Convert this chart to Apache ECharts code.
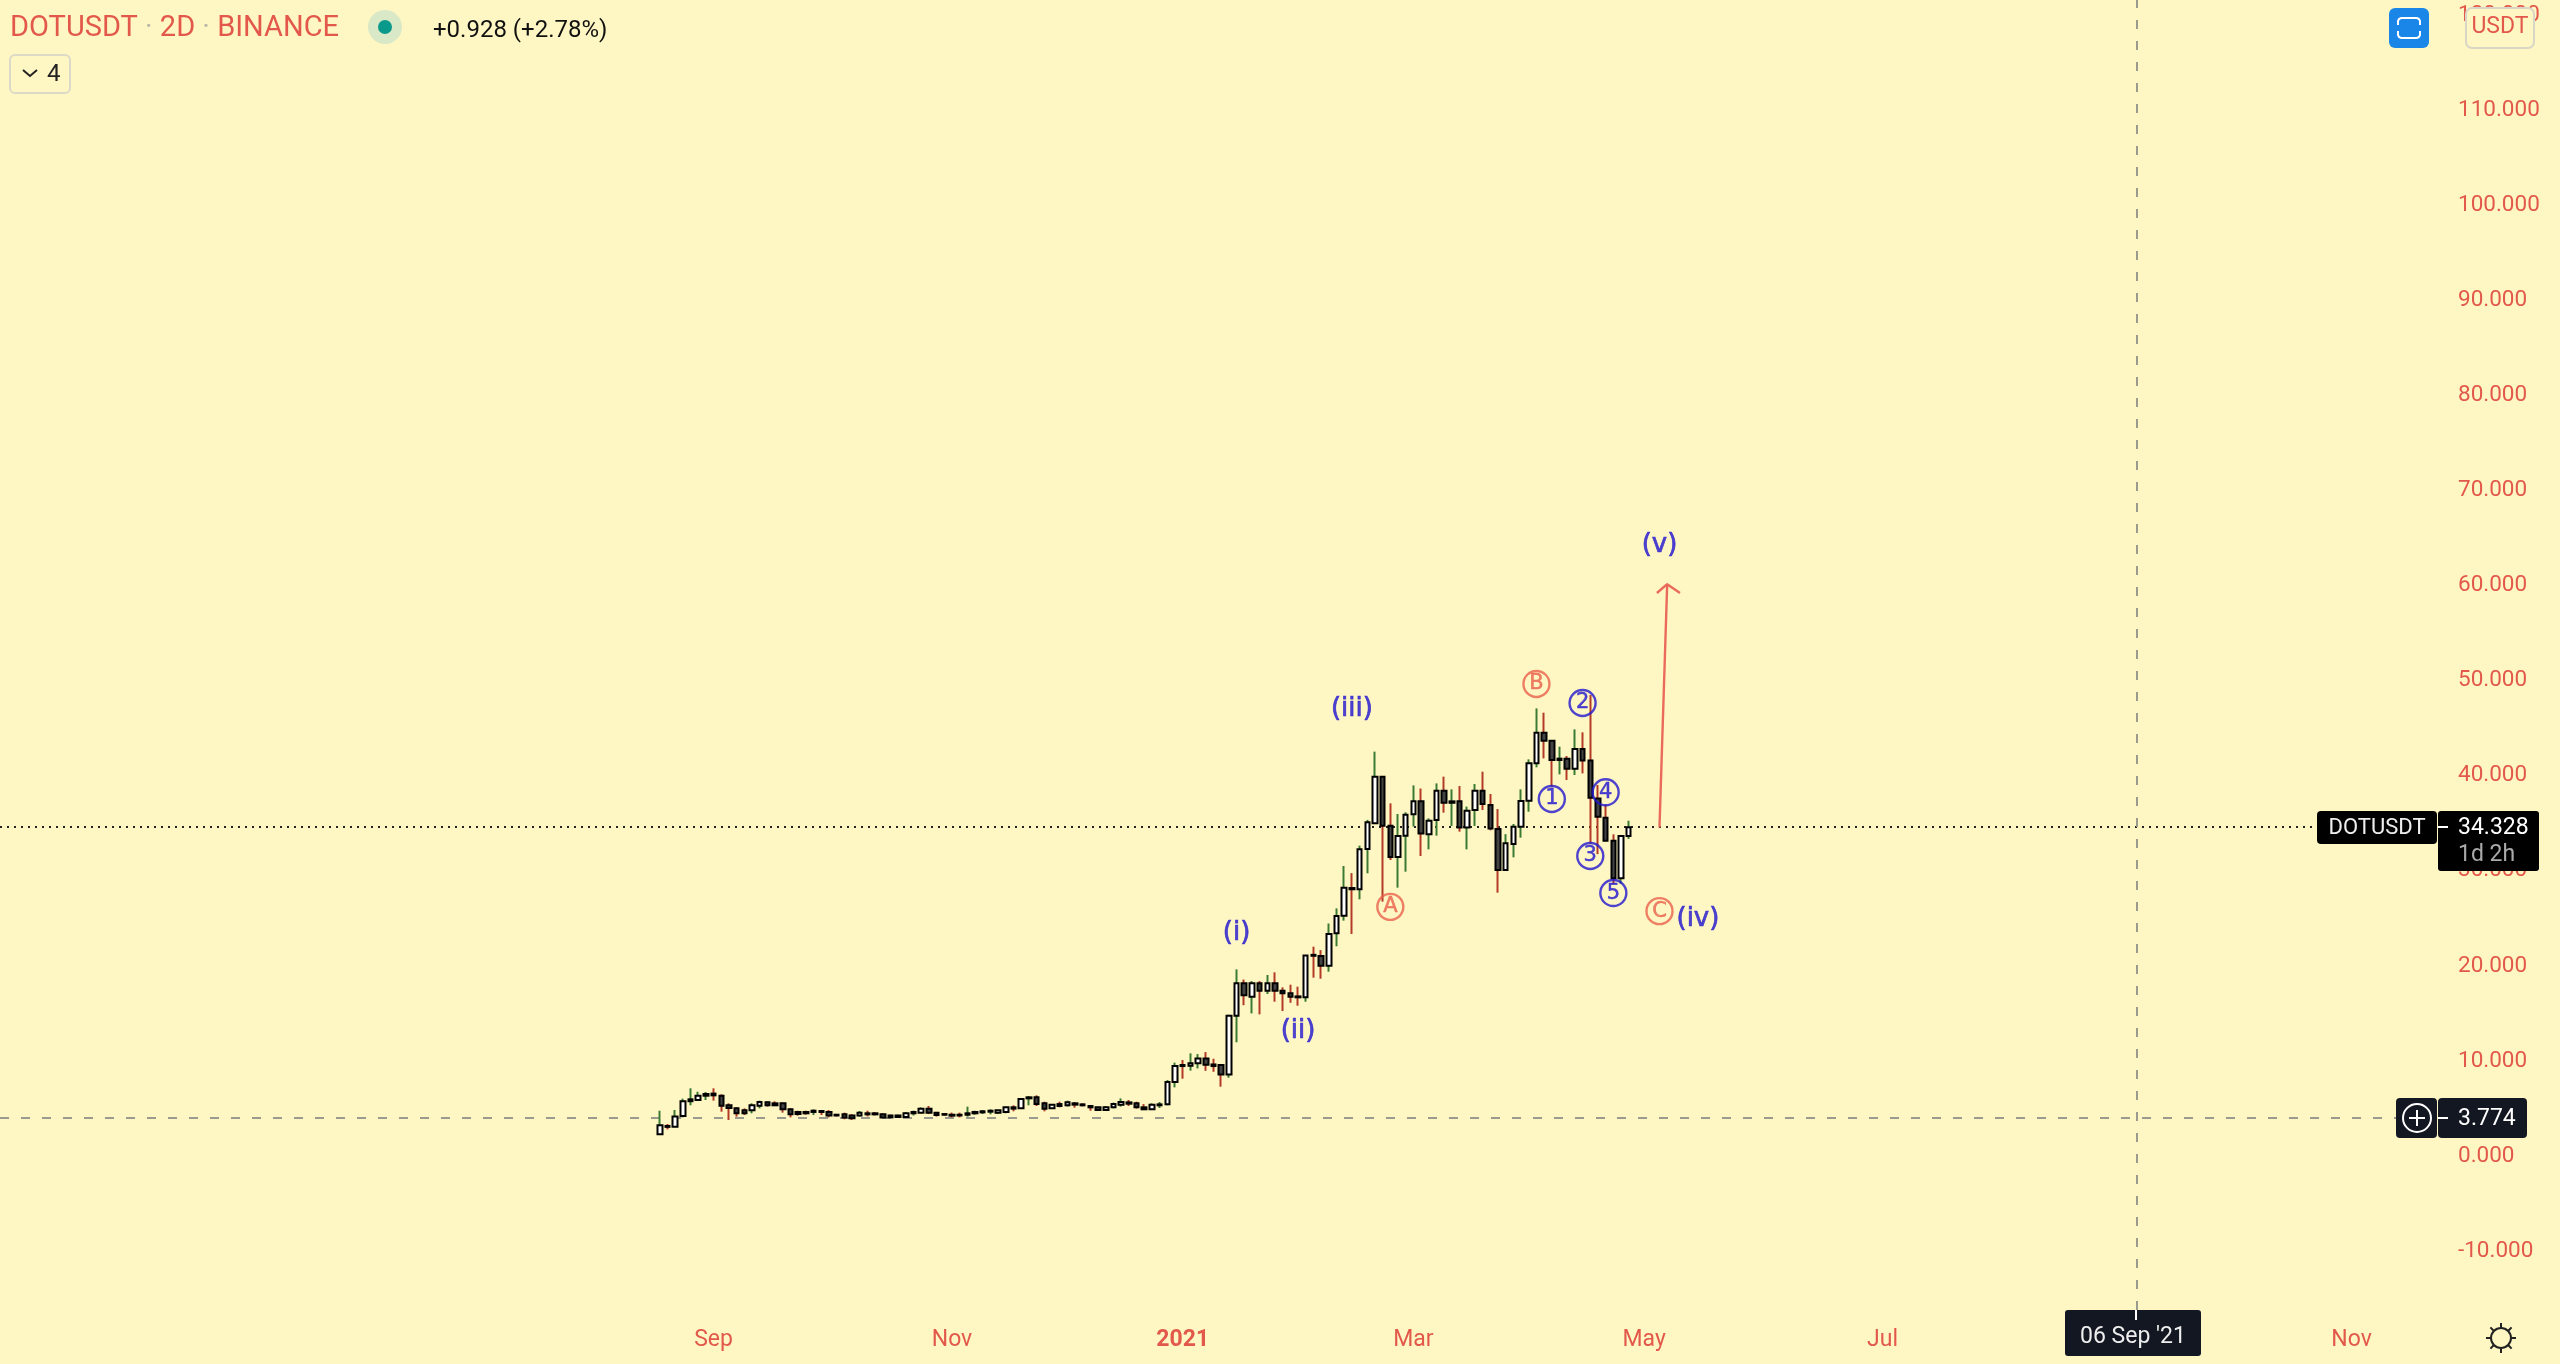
<!DOCTYPE html>
<html>
<head>
    <meta charset="utf-8">
    <title>DOTUSDT 2D</title>
    <script src="https://cdn.jsdelivr.net/npm/echarts@6/dist/echarts.min.js"></script>
    <style>
        html, body { margin: 0; padding: 0; background: #fff7c3; }
        #chart1 { width: 2560px; height: 1364px; }
    </style>
</head>
<body>
<div id="chart1"></div>
<script>
    // 2D bars from the listing date
    var firstBar = [2020, 7, 18];

    var opens = [2.02,2.9,2.82,3.95,5.5,5.63,6.08,6.3,6.08,5.07,4.75,4.54,4.54,5.03,5.38,5.28,5.28,4.65,4.37,4.37,
        4.37,4.47,4.37,4.08,4.12,4.0,4.0,4.23,4.23,4.12,4.0,3.84,3.84,4.23,4.3,4.72,4.3,4.15,4.08,4.08,
        4.08,4.23,4.33,4.4,4.3,4.37,4.86,4.75,5.8,5.91,5.28,4.75,5.2,5.07,5.28,5.17,5.0,4.86,4.58,4.86,
        5.14,5.38,5.28,4.86,4.65,5.07,5.17,7.52,9.31,9.24,9.5,10.0,9.37,9.3,8.32,14.5,17.9,16.5,17.9,17.13,
        17.9,17.13,16.85,16.53,16.43,20.9,20.77,19.76,23.16,25.02,27.93,27.8,32.04,34.74,39.65,34.49,31.2,33.44,35.68,37.05,
        33.6,35.09,38.17,36.9,37.05,34.3,36.14,38.17,36.66,34.14,29.83,32.56,34.39,37.12,41.05,44.27,43.43,41.4,41.54,40.49,
        42.55,41.36,37.36,35.33,32.91,28.95,33.4];
    var closes = [2.96,2.8,3.88,5.49,5.7,6.08,6.26,6.12,5.03,4.79,4.23,4.23,5.07,5.42,5.07,5.07,4.65,4.12,4.15,4.23,
        4.5,4.37,4.0,4.0,3.8,3.7,4.3,4.12,4.12,3.8,3.8,4.0,4.23,4.37,4.72,4.3,4.05,4.08,3.98,4.0,
        4.23,4.37,4.44,4.5,4.54,4.86,4.72,5.73,5.91,5.2,4.72,5.14,5.0,5.38,5.14,5.07,4.86,4.58,4.86,5.2,
        5.42,5.24,4.86,4.65,5.14,5.17,7.52,9.2,9.2,9.49,10.0,9.35,9.2,8.32,14.5,17.9,16.64,17.9,17.13,17.9,
        17.13,16.85,16.5,16.43,20.84,20.8,19.76,23.09,25.0,27.97,27.8,32.0,34.84,39.65,34.49,31.2,33.4,35.65,37.05,33.68,
        35.0,38.17,36.9,37.05,34.3,36.07,38.17,36.77,34.2,29.83,32.63,34.39,37.09,41.05,44.27,43.43,41.4,41.54,40.49,42.55,
        41.36,37.43,35.44,32.91,28.95,33.4,34.328];
    var lows = [1.95,2.54,2.8,3.8,5.07,5.55,5.63,5.56,4.4,3.52,3.88,4.05,4.23,4.75,4.93,5.0,4.3,3.8,3.98,4.08,
        4.05,4.05,3.8,3.9,3.6,3.52,3.88,3.9,4.0,3.74,3.77,3.77,3.77,4.0,4.23,4.15,3.88,3.98,3.8,3.8,
        3.88,4.08,4.15,4.12,4.15,4.23,4.44,4.72,5.07,5.0,4.44,4.68,4.86,4.93,4.82,4.96,4.5,4.54,4.5,4.75,
        4.93,5.0,4.72,4.58,4.58,4.79,5.07,6.96,7.87,8.72,8.95,8.7,8.6,7.03,7.97,11.7,15.6,14.74,14.64,16.78,
        15.97,14.99,15.86,15.55,15.97,18.5,18.39,19.13,21.8,24.5,23.1,26.74,29.48,34.7,26.5,30.88,27.97,29.65,34.4,31.3,
        32.0,33.44,35.86,34.46,33.86,32.0,34.46,36.14,34.0,27.44,29.76,31.16,33.23,35.96,40.63,41.57,38.6,39.89,39.3,39.82,
        39.99,32.63,31.5,32.91,28.4,28.4,33.1];
    var highs = [4.5,3.1,4.58,5.77,6.86,6.5,6.47,6.86,6.23,5.28,4.86,4.75,5.28,5.56,5.49,5.49,5.35,4.75,4.5,4.5,
        4.65,4.58,4.58,4.15,4.3,4.15,4.47,4.5,4.37,4.23,4.08,4.08,4.37,4.5,4.86,5.0,4.37,4.23,4.3,4.3,
        4.93,4.5,4.58,4.65,4.58,4.93,5.07,5.8,6.05,6.12,5.45,5.2,5.45,5.56,5.42,5.28,5.1,4.93,5.0,5.35,
        5.8,5.63,5.45,5.2,5.28,5.42,7.73,9.56,9.84,10.54,10.46,10.67,9.97,9.3,14.6,19.37,18.3,18.14,18.14,18.78,
        19.06,17.48,17.76,17.55,20.88,21.76,21.4,24.2,25.79,30.25,29.5,32.39,35.1,42.28,39.65,36.84,35.72,35.9,38.73,38.4,
        35.26,38.94,39.65,38.31,38.66,36.5,38.87,40.17,37.82,36.24,33.6,34.67,38.31,41.47,46.83,46.38,43.43,42.8,41.82,44.62,
        44.31,48.24,38.77,36.66,33.58,33.5,35.01];

    // axes, month labels sit on the first bar of the month
    var yTicks = [-10,0,10,20,30,40,50,60,70,80,90,100,110,120];
    var xTickDates = ['2020-09-01','2020-11-02','2021-01-01','2021-03-02','2021-05-01','2021-07-02','2021-11-01'];
    var xTickLabels = ['Sep','Nov','2021','Mar','May','Jul','Nov'];

    // last price and crosshair
    var lastPrice = 34.328;
    var crossPrice = 3.774;
    var crossDate = '2021-09-06';

    // elliott wave labels
    var waveNames = ['(i)','(ii)','(iii)','(iv)','(v)'];
    var waveDates = ['2021-01-15','2021-01-31','2021-02-14','2021-05-15','2021-05-05'];
    var wavePrices = [23.2,12.85,46.75,24.6,63.95];

    var redNames = ['A','B','C'];
    var redDates = ['2021-02-24','2021-04-03','2021-05-05'];
    var redPrices = [25.95,49.4,25.5];

    var blueNames = ['1','2','3','4','5'];
    var blueDates = ['2021-04-07','2021-04-15','2021-04-17','2021-04-21','2021-04-23'];
    var bluePrices = [37.3,47.4,31.3,38.0,27.4];

    // projection arrow, the head is drawn as part of the same path
    var arrowDates = ['2021-05-05','2021-05-07','2021-05-04 08:00','2021-05-07','2021-05-10 08:00'];
    var arrowPrices = [34.3,59.9,58.97,59.9,58.97];

    var RED = '#e2594b', BLUE = '#2015d0', DARK = '#131722', FONT = 'Roboto';

    function ts(d) {
        return +echarts.time.parse(d);
    }

    var wicks = [], bodies = [];
    for (var i = 0; i < opens.length; i++) {
        var t = +new Date(firstBar[0], firstBar[1], firstBar[2] + 2 * i);
        wicks.push([t, opens[i], closes[i], lows[i], highs[i]]);
        bodies.push([t, opens[i], closes[i], Math.min(opens[i], closes[i]), Math.max(opens[i], closes[i])]);
    }

    function zipPoints(names, dates, prices) {
        return names.map(function (n, k) {
            return { name: n, value: [ts(dates[k]), prices[k]] };
        });
    }

    function ringSeries(names, dates, prices, color) {
        return {
            type: 'scatter', z: 5, silent: true,
            symbol: 'circle', symbolSize: 26,
            itemStyle: { color: 'rgba(0,0,0,0)', borderColor: color, borderWidth: 2.4 },
            label: {
                show: true, position: 'inside', formatter: '{b}', color: color,
                fontFamily: 'DejaVu Sans', fontSize: 21, textBorderColor: color, textBorderWidth: 0.5
            },
            data: zipPoints(names, dates, prices)
        };
    }

    var xTickValues = xTickDates.map(ts);

    var myChart = echarts.init(document.getElementById('chart1'));

    var option = {
        animation: false,
        backgroundColor: '#fff7c3',
        grid: { left: 0, right: 123, top: 0, bottom: 54 },
        xAxis: {
            type: 'value',
            scale: true,
            min: ts('2020-02-28 10:00'),
            max: ts('2021-11-23 05:00'),
            axisLine: { show: false },
            axisTick: { show: false },
            splitLine: { show: false },
            axisLabel: {
                customValues: xTickValues,
                margin: 19,
                color: RED,
                fontFamily: FONT,
                fontSize: 23,
                formatter: function (v) {
                    var s = xTickLabels[xTickValues.indexOf(v)];
                    return s === '2021' ? '{b|2021}' : s;
                },
                rich: { b: { fontWeight: 'bold', color: RED, fontFamily: FONT, fontSize: 23 } }
            }
        },
        yAxis: {
            type: 'value',
            position: 'right',
            min: -16.465,
            max: 121.36,
            axisLine: { show: false },
            axisTick: { show: false },
            splitLine: { show: false },
            axisLabel: {
                customValues: yTicks,
                margin: 21,
                color: RED,
                formatter: function (v) { return '{p|' + v.toFixed(3) + '}'; },
                rich: { p: { color: RED, fontFamily: FONT, fontSize: 22.5, padding: [5, 0, 0, 0] } }
            }
        },
        series: [
            {
                // wicks only
                type: 'candlestick', z: 2, silent: true, barWidth: 1,
                itemStyle: { color: '#3b7a32', color0: '#b23a26', borderColor: '#3b7a32', borderColor0: '#b23a26', borderWidth: 2 },
                data: wicks,
                markLine: {
                    silent: true, symbol: 'none', z: 1,
                    label: { show: false },
                    data: [
                        { yAxis: lastPrice, lineStyle: { color: '#222', type: [2, 5], width: 2 } },
                        { yAxis: crossPrice, lineStyle: { color: '#9a9a8e', type: [9, 12], width: 2 } },
                        { xAxis: ts(crossDate), lineStyle: { color: '#9a9a8e', type: [9, 12], width: 2 } }
                    ]
                }
            },
            {
                // bodies on top of the wicks
                type: 'candlestick', z: 3, silent: true, barWidth: 5,
                itemStyle: { color: '#ffffff', color0: '#444444', borderColor: '#000', borderColor0: '#000', borderWidth: 2 },
                data: bodies
            },
            {
                type: 'line', z: 4, silent: true, showSymbol: false, symbol: 'none',
                lineStyle: { color: '#ea6a5c', width: 2.4 },
                data: arrowDates.map(function (d, k) { return [ts(d), arrowPrices[k]]; })
            },
            ringSeries(redNames, redDates, redPrices, '#e8604c'),
            ringSeries(blueNames, blueDates, bluePrices, BLUE),
            {
                type: 'scatter', z: 5, silent: true, symbolSize: 1,
                itemStyle: { color: 'rgba(0,0,0,0)' },
                label: {
                    show: true, position: 'inside', formatter: '{b}', color: BLUE,
                    fontFamily: 'DejaVu Sans', fontSize: 26, textBorderColor: BLUE, textBorderWidth: 0.7
                },
                data: zipPoints(waveNames, waveDates, wavePrices)
            }
        ]
    };
    myChart.setOption(option);

    // price and time tags sit where the axes put them
    var yLast = Math.round(myChart.convertToPixel({ yAxisIndex: 0 }, lastPrice));
    var yCross = Math.round(myChart.convertToPixel({ yAxisIndex: 0 }, crossPrice));
    var xCross = Math.round(myChart.convertToPixel({ xAxisIndex: 0 }, ts(crossDate)));

    function label(x, y, s, fill, size, align) {
        return { type: 'text', z: 102, style: { x: x, y: y, text: s, fill: fill, font: size + 'px ' + FONT, textAlign: align || 'left', textVerticalAlign: 'middle' } };
    }
    function box(x, y, w, h, fill, r) {
        return { type: 'rect', z: 101, shape: { x: x, y: y, width: w, height: h, r: r || 0 }, style: { fill: fill } };
    }
    function seg(x1, y1, x2, y2, color, w) {
        return { type: 'line', z: 102, shape: { x1: x1, y1: y1, x2: x2, y2: y2 }, style: { stroke: color, lineWidth: w || 2 } };
    }
    function bracket(points) {
        return { type: 'polyline', z: 102, shape: { points: points }, style: { fill: 'none', stroke: '#fff', lineWidth: 2 } };
    }

    var chrome = [
        // legend line
        { type: 'text', z: 102, style: {
            x: 10, y: 29, textVerticalAlign: 'middle',
            text: '{r|DOTUSDT}{g| · }{r|2D}{g| · }{r|BINANCE}',
            rich: {
                r: { fill: RED, font: '29px ' + FONT },
                g: { fill: '#b9b9a8', font: '29px ' + FONT }
            }
        } },
        { type: 'circle', z: 101, shape: { cx: 385, cy: 27, r: 17 }, style: { fill: '#d9e8c6' } },
        { type: 'circle', z: 102, shape: { cx: 385, cy: 27, r: 7 }, style: { fill: '#0a9a8c' } },
        label(433, 31, '+0.928 (+2.78%)', '#111', 24),
        { type: 'rect', z: 101, shape: { x: 10, y: 55, width: 60, height: 38, r: 5 }, style: { fill: 'rgba(0,0,0,0)', stroke: '#dcd9c6', lineWidth: 2 } },
        { type: 'polyline', z: 102, shape: { points: [[23, 70], [30, 76], [37, 70]] }, style: { fill: 'none', stroke: '#222', lineWidth: 2 } },
        label(47, 75, '4', '#222', 24),

        // top right buttons
        box(2389, 8, 40, 40, '#1a87e8', 6),
        bracket([[2398, 25], [2398, 21], [2399, 19], [2401, 18], [2417, 18], [2419, 19], [2420, 21], [2420, 25]]),
        bracket([[2398, 31], [2398, 35], [2399, 37], [2401, 38], [2417, 38], [2419, 37], [2420, 35], [2420, 31]]),
        { type: 'rect', z: 101, shape: { x: 2466, y: 8, width: 68, height: 40, r: 6 }, style: { fill: '#fff7c3', stroke: '#d9d6c8', lineWidth: 2 } },
        label(2500, 27, 'USDT', RED, 23, 'center'),

        // last price tag
        box(2317, yLast - 16, 120, 33, '#000', 4),
        box(2438, yLast - 16, 101, 60, '#000', 3),
        label(2377, yLast + 1, 'DOTUSDT', '#eee', 22, 'center'),
        seg(2438, yLast, 2448, yLast, '#fff'),
        label(2458, yLast + 1, lastPrice.toFixed(3), '#fff', 23),
        label(2458, yLast + 28, '1d 2h', '#aaa', 23),

        // crosshair price tag
        box(2396, yCross - 20, 41, 40, DARK, 4),
        box(2438, yCross - 20, 89, 40, DARK, 4),
        { type: 'circle', z: 102, shape: { cx: 2417, cy: yCross, r: 14 }, style: { fill: 'none', stroke: '#fff', lineWidth: 2 } },
        seg(2417, yCross - 8, 2417, yCross + 8, '#fff'),
        seg(2409, yCross, 2425, yCross, '#fff'),
        seg(2438, yCross, 2448, yCross, '#fff'),
        label(2458, yCross + 1, crossPrice.toFixed(3), '#fff', 23),

        // crosshair time tag
        box(xCross - 71, 1310, 136, 46, DARK, 3),
        seg(xCross, 1310, xCross, 1320, '#fff'),
        label(xCross - 3, 1337, "06 Sep '21", '#eee', 23, 'center'),

        // settings icon
        { type: 'circle', z: 102, shape: { cx: 2501, cy: 1338, r: 10 }, style: { fill: 'none', stroke: '#222', lineWidth: 2 } }
    ];
    for (var a = 0; a < 8; a++) {
        var ang = a * Math.PI / 4;
        chrome.push(seg(2501 + 10 * Math.cos(ang), 1338 + 10 * Math.sin(ang), 2501 + 15 * Math.cos(ang), 1338 + 15 * Math.sin(ang), '#222'));
    }

    myChart.setOption({ graphic: { elements: chrome } });
</script>
</body>
</html>
